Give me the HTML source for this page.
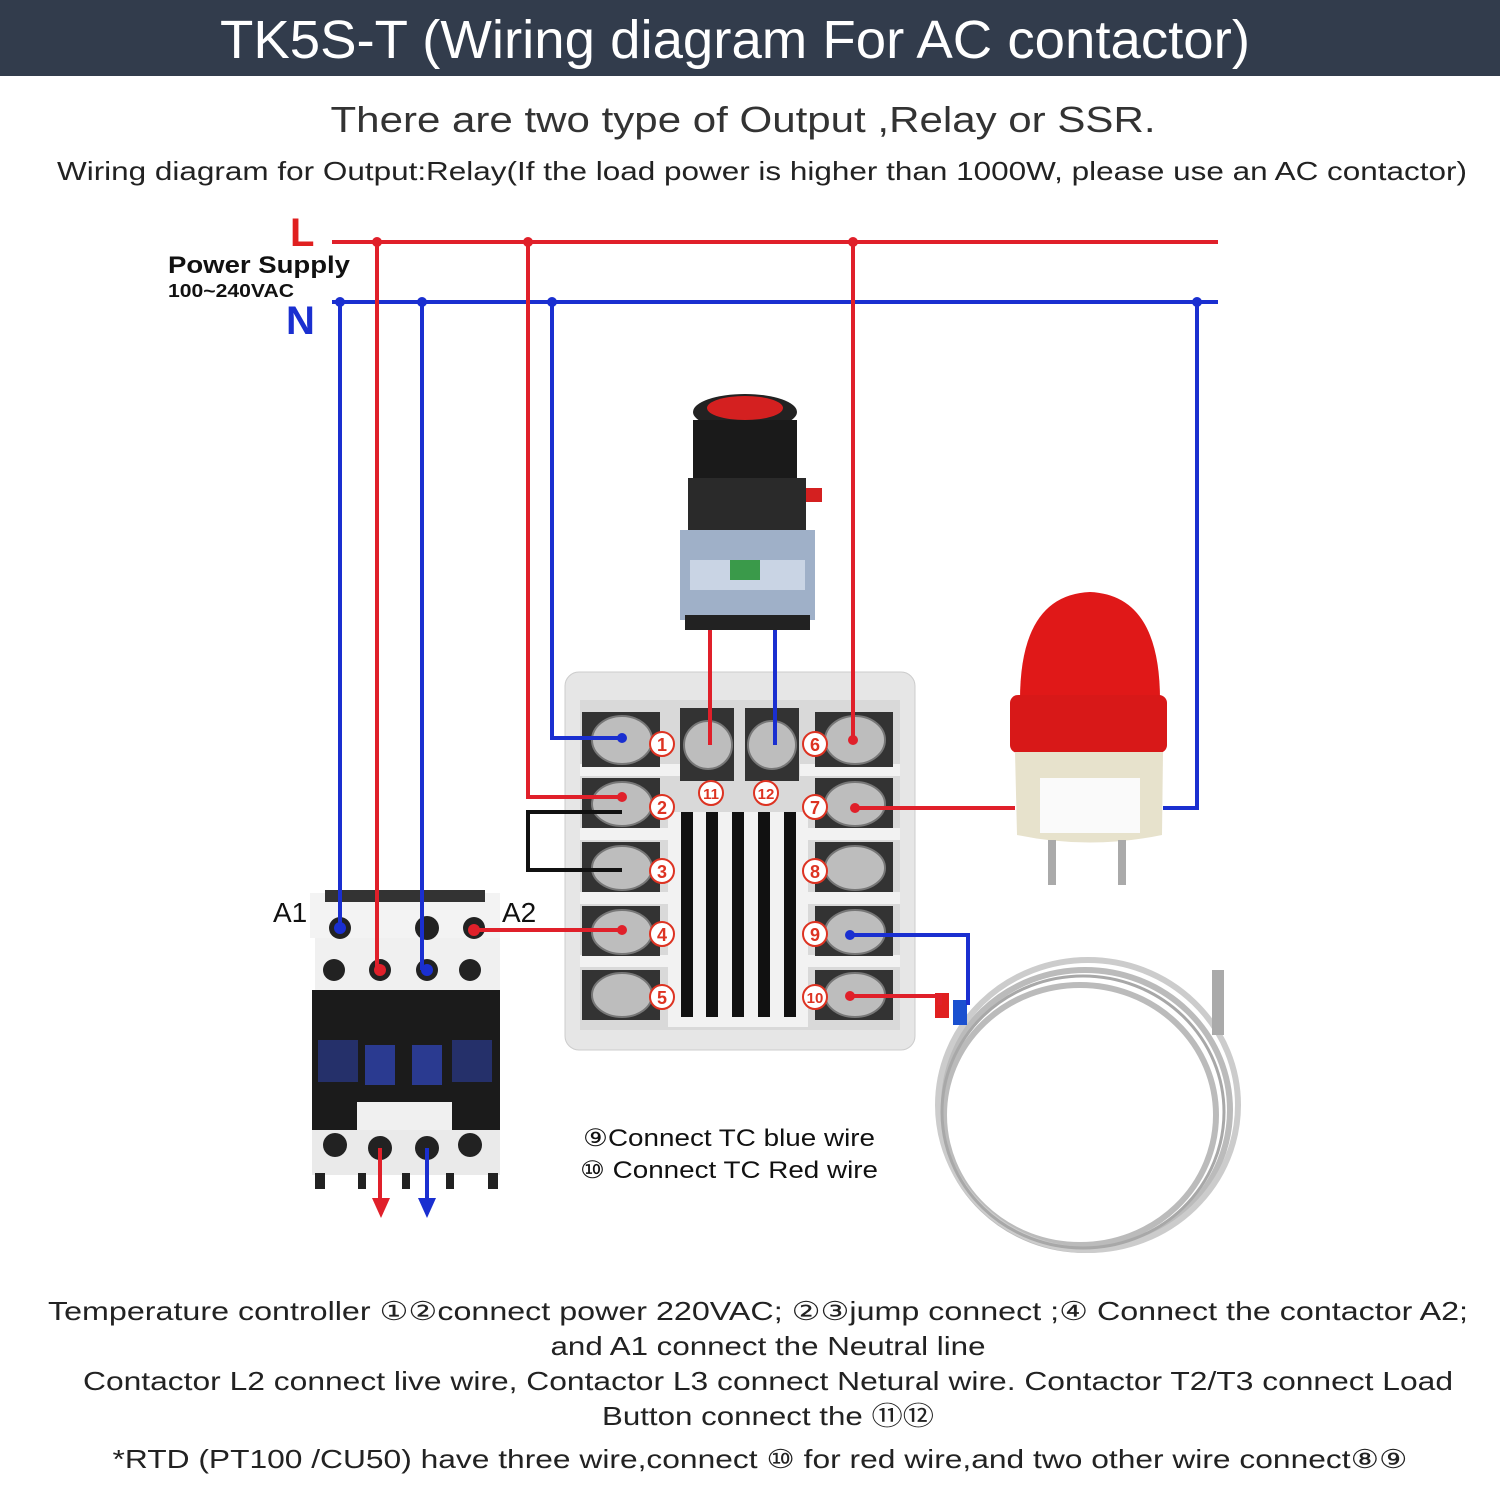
<!DOCTYPE html>
<html><head><meta charset="utf-8"><style>
html,body{margin:0;padding:0;background:#fff}
svg{display:block}
text{font-family:"Liberation Sans",sans-serif}
</style></head><body>
<svg width="1500" height="1500" viewBox="0 0 1500 1500" xmlns="http://www.w3.org/2000/svg">
<rect width="1500" height="1500" fill="#fff"/>
<rect x="0" y="0" width="1500" height="76" fill="#323c4c"/>
<text x="735" y="58" text-anchor="middle" fill="#fff" font-size="54" textLength="1030" lengthAdjust="spacingAndGlyphs">TK5S-T  (Wiring diagram For AC contactor)</text>
<text x="743" y="132" text-anchor="middle" fill="#333" font-size="36" textLength="825" lengthAdjust="spacingAndGlyphs">There are two type of Output ,Relay or SSR.</text>
<text x="762" y="180" text-anchor="middle" fill="#222" font-size="26" textLength="1410" lengthAdjust="spacingAndGlyphs">Wiring diagram for Output:Relay(If the load power is higher than 1000W, please use an AC contactor)</text>

<text x="290" y="246" fill="#e02020" font-size="40" font-weight="bold">L</text>
<text x="286" y="334" fill="#1a2fd0" font-size="40" font-weight="bold">N</text>
<text x="168" y="273" fill="#111" font-size="24" font-weight="bold" textLength="182" lengthAdjust="spacingAndGlyphs">Power Supply</text>
<text x="168" y="297" fill="#111" font-size="18" font-weight="bold" textLength="126" lengthAdjust="spacingAndGlyphs">100~240VAC</text>

<rect x="565" y="672" width="350" height="378" rx="14" fill="#e6e6e6" stroke="#ccc"/>
<rect x="580" y="700" width="320" height="330" fill="#d9d9d9"/>
<g fill="#f2f2f2">
<rect x="580" y="764" width="100" height="12"/><rect x="580" y="828" width="100" height="12"/><rect x="580" y="892" width="100" height="12"/><rect x="580" y="955" width="100" height="12"/>
<rect x="800" y="764" width="100" height="12"/><rect x="800" y="828" width="100" height="12"/><rect x="800" y="892" width="100" height="12"/><rect x="800" y="955" width="100" height="12"/>
<rect x="668" y="812" width="140" height="215"/>
</g>
<g fill="#333">
<rect x="582" y="712" width="78" height="55"/><rect x="582" y="778" width="78" height="50"/><rect x="582" y="842" width="78" height="50"/><rect x="582" y="906" width="78" height="50"/><rect x="582" y="970" width="78" height="50"/>
<rect x="815" y="712" width="78" height="55"/><rect x="815" y="778" width="78" height="50"/><rect x="815" y="842" width="78" height="50"/><rect x="815" y="906" width="78" height="50"/><rect x="815" y="970" width="78" height="50"/>
<rect x="680" y="708" width="54" height="73"/><rect x="745" y="708" width="54" height="73"/>
</g>
<g fill="#bdbdbd" stroke="#777" stroke-width="2">
<ellipse cx="622" cy="740" rx="30" ry="24"/><ellipse cx="622" cy="804" rx="30" ry="22"/><ellipse cx="622" cy="868" rx="30" ry="22"/><ellipse cx="622" cy="932" rx="30" ry="22"/><ellipse cx="622" cy="995" rx="30" ry="22"/>
<ellipse cx="855" cy="740" rx="30" ry="24"/><ellipse cx="855" cy="804" rx="30" ry="22"/><ellipse cx="855" cy="868" rx="30" ry="22"/><ellipse cx="855" cy="932" rx="30" ry="22"/><ellipse cx="855" cy="995" rx="30" ry="22"/>
<ellipse cx="708" cy="745" rx="24" ry="24"/><ellipse cx="772" cy="745" rx="24" ry="24"/>
</g>
<g fill="#111">
<rect x="681" y="812" width="12" height="205"/><rect x="706" y="812" width="12" height="205"/><rect x="732" y="812" width="12" height="205"/><rect x="758" y="812" width="12" height="205"/><rect x="784" y="812" width="12" height="205"/>
</g>
<g fill="#fff" stroke="#d32" stroke-width="2">
<circle cx="662" cy="744" r="12"/><circle cx="662" cy="807" r="12"/><circle cx="662" cy="871" r="12"/><circle cx="662" cy="934" r="12"/><circle cx="662" cy="997" r="12"/>
<circle cx="815" cy="744" r="12"/><circle cx="815" cy="807" r="12"/><circle cx="815" cy="871" r="12"/><circle cx="815" cy="934" r="12"/><circle cx="815" cy="997" r="12"/>
<circle cx="711" cy="793" r="12"/><circle cx="766" cy="793" r="12"/>
</g>
<g fill="#d32" font-size="18" font-weight="bold" text-anchor="middle">
<text x="662" y="751">1</text><text x="662" y="814">2</text><text x="662" y="878">3</text><text x="662" y="941">4</text><text x="662" y="1004">5</text>
<text x="815" y="751">6</text><text x="815" y="814">7</text><text x="815" y="878">8</text><text x="815" y="941">9</text><text x="815" y="1003" font-size="15">10</text>
<text x="711" y="799" font-size="15">11</text><text x="766" y="799" font-size="15">12</text>
</g>

<ellipse cx="745" cy="412" rx="52" ry="18" fill="#222"/>
<ellipse cx="745" cy="408" rx="38" ry="12" fill="#d42020"/>
<rect x="693" y="420" width="104" height="60" fill="#1a1a1a"/>
<rect x="688" y="478" width="118" height="55" fill="#2a2a2a"/>
<rect x="806" y="488" width="16" height="14" fill="#d42020"/>
<rect x="680" y="530" width="135" height="90" fill="#9fb0c8"/>
<rect x="690" y="560" width="115" height="30" fill="#c9d4e4"/>
<rect x="730" y="560" width="30" height="20" fill="#3a9a4a"/>
<rect x="685" y="615" width="125" height="15" fill="#222"/>

<path d="M1020 700 Q1020 595 1090 592 Q1160 595 1160 700 Z" fill="#e01818"/>
<rect x="1010" y="695" width="157" height="58" rx="8" fill="#d81818"/>
<path d="M1015 752 L1163 752 L1162 835 Q1090 850 1017 835 Z" fill="#e7e2cc"/>
<rect x="1040" y="778" width="100" height="55" fill="#fafafa"/>
<rect x="1048" y="840" width="8" height="45" fill="#aaa"/><rect x="1118" y="840" width="8" height="45" fill="#aaa"/>

<g fill="none" stroke="#bbb" stroke-width="6">
<ellipse cx="1085" cy="1110" rx="145" ry="140"/>
<ellipse cx="1080" cy="1115" rx="136" ry="130"/>
<ellipse cx="1088" cy="1105" rx="150" ry="145" stroke="#ccc"/>
<ellipse cx="1083" cy="1112" rx="141" ry="136" stroke="#a8a8a8" stroke-width="3"/>
</g>
<rect x="1212" y="970" width="12" height="65" fill="#aaa"/>
<rect x="935" y="993" width="14" height="25" fill="#e02020"/>
<rect x="953" y="1000" width="14" height="25" fill="#1a50d0"/>

<rect x="310" y="893" width="190" height="45" fill="#f3f3f3"/>
<rect x="325" y="890" width="160" height="12" fill="#333"/>
<rect x="315" y="938" width="185" height="55" fill="#f0f0f0"/>
<rect x="312" y="990" width="188" height="140" fill="#1b1b1b"/>
<rect x="318" y="1040" width="40" height="42" fill="#25306a"/>
<rect x="365" y="1045" width="30" height="40" fill="#2a3a90"/>
<rect x="412" y="1045" width="30" height="40" fill="#2a3a90"/>
<rect x="452" y="1040" width="40" height="42" fill="#25306a"/>
<rect x="357" y="1102" width="95" height="40" fill="#f0f0f0"/>
<rect x="312" y="1130" width="188" height="45" fill="#eaeaea"/>
<g fill="#222">
<circle cx="340" cy="928" r="11"/><circle cx="427" cy="928" r="12"/><circle cx="474" cy="928" r="11"/>
<circle cx="334" cy="970" r="11"/><circle cx="380" cy="970" r="11"/><circle cx="427" cy="970" r="11"/><circle cx="470" cy="970" r="11"/>
<circle cx="335" cy="1145" r="12"/><circle cx="380" cy="1148" r="12"/><circle cx="427" cy="1148" r="12"/><circle cx="470" cy="1145" r="12"/>
<rect x="315" y="1173" width="10" height="16"/><rect x="358" y="1173" width="8" height="16"/><rect x="402" y="1173" width="8" height="16"/><rect x="446" y="1173" width="8" height="16"/><rect x="488" y="1173" width="10" height="16"/>
</g>
<text x="273" y="922" font-size="28" fill="#111">A1</text>
<text x="502" y="922" font-size="28" fill="#111">A2</text>

<g fill="none" stroke-width="4">
<path d="M332 242 H1218" stroke="#e0202a"/>
<path d="M332 302 H1218" stroke="#1a2fd0"/>
<path d="M377 242 V970" stroke="#e0202a"/>
<path d="M528 242 V797 H622" stroke="#e0202a"/>
<path d="M853 242 V740" stroke="#e0202a"/>
<path d="M340 302 V928" stroke="#1a2fd0"/>
<path d="M422 302 V970" stroke="#1a2fd0"/>
<path d="M552 302 V738 H622" stroke="#1a2fd0"/>
<path d="M1197 302 V808 H1163" stroke="#1a2fd0"/>
<path d="M855 808 H1015" stroke="#e0202a"/>
<path d="M710 630 V745" stroke="#e0202a"/>
<path d="M775 630 V745" stroke="#1a2fd0"/>
<path d="M474 930 H622" stroke="#e0202a"/>
<path d="M850 935 H968 V1005" stroke="#1a2fd0"/>
<path d="M850 996 H940 V1005" stroke="#e0202a"/>
<path d="M622 812 H528 V870 H622" stroke="#111"/>
<path d="M380 1148 V1200" stroke="#e0202a"/>
<path d="M427 1148 V1200" stroke="#1a2fd0"/>
</g>
<polygon points="372,1198 390,1198 381,1218" fill="#e0202a"/>
<polygon points="418,1198 436,1198 427,1218" fill="#1a2fd0"/>
<g fill="#e0202a"><circle cx="377" cy="242" r="5"/><circle cx="528" cy="242" r="5"/><circle cx="853" cy="242" r="5"/><circle cx="622" cy="797" r="5"/><circle cx="853" cy="740" r="5"/><circle cx="855" cy="808" r="5"/><circle cx="622" cy="930" r="5"/><circle cx="850" cy="996" r="5"/><circle cx="474" cy="930" r="6"/><circle cx="380" cy="970" r="6"/></g>
<g fill="#1a2fd0"><circle cx="340" cy="302" r="5"/><circle cx="422" cy="302" r="5"/><circle cx="552" cy="302" r="5"/><circle cx="1197" cy="302" r="5"/><circle cx="622" cy="738" r="5"/><circle cx="850" cy="935" r="5"/><circle cx="340" cy="928" r="6"/><circle cx="427" cy="970" r="6"/></g>

<text x="583" y="1146" font-size="24" fill="#111" textLength="292" lengthAdjust="spacingAndGlyphs">⑨Connect TC blue wire</text>
<text x="580" y="1178" font-size="24" fill="#111" textLength="298" lengthAdjust="spacingAndGlyphs">⑩ Connect TC Red wire</text>

<g font-size="26" fill="#222" text-anchor="middle">
<text x="758" y="1320" textLength="1420" lengthAdjust="spacingAndGlyphs">Temperature controller ①②connect power 220VAC; ②③jump connect ;④  Connect the contactor A2;</text>
<text x="768" y="1355" textLength="435" lengthAdjust="spacingAndGlyphs">and A1 connect the Neutral line</text>
<text x="768" y="1390" textLength="1370" lengthAdjust="spacingAndGlyphs">Contactor L2 connect live wire, Contactor L3 connect Netural wire.   Contactor T2/T3 connect Load</text>
<text x="768" y="1425" textLength="332" lengthAdjust="spacingAndGlyphs">Button connect the ⑪⑫</text>
<text x="760" y="1468" textLength="1295" lengthAdjust="spacingAndGlyphs">*RTD (PT100 /CU50) have three wire,connect ⑩ for red wire,and two other wire connect⑧⑨</text>
</g>
</svg>
</body></html>
